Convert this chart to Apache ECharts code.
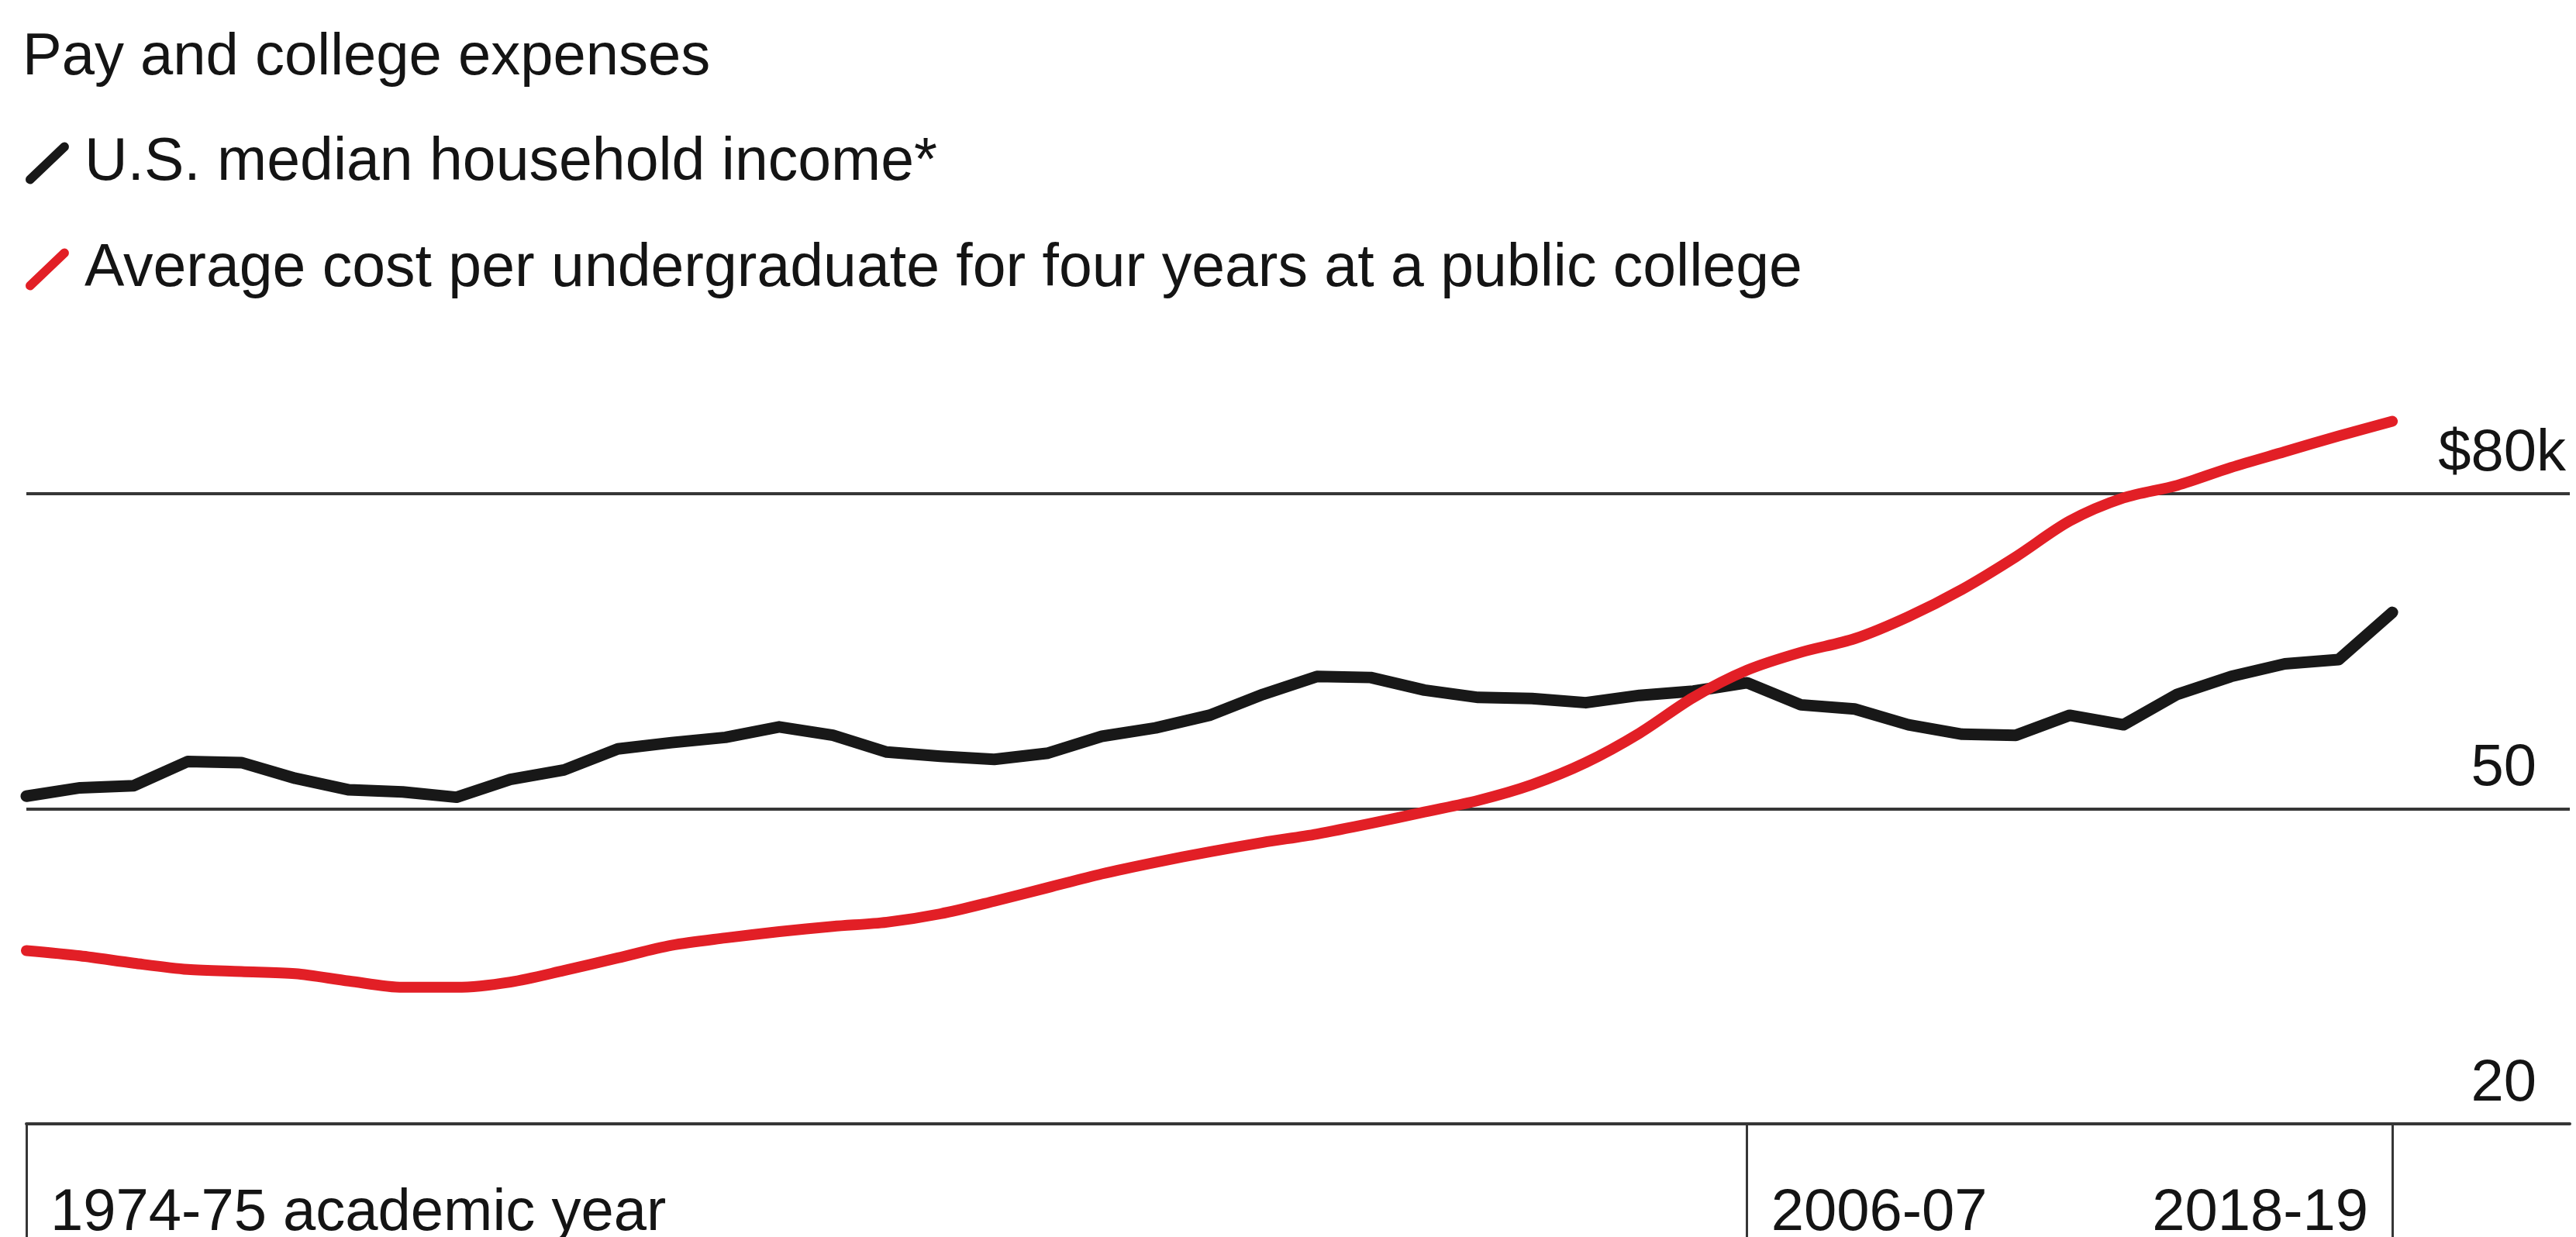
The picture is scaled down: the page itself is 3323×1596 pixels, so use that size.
<!DOCTYPE html>
<html>
<head>
<meta charset="utf-8">
<script src="https://cdn.jsdelivr.net/npm/echarts@6/dist/echarts.min.js"></script>
<style>
  html, body { margin: 0; padding: 0; background: #ffffff; }
  #chart { width: 3323px; height: 1596px; }
</style>
</head>
<body>
<div id="chart"></div>
<script>
// Academic years, one point per year
const years = [
  '1974-75', '1975-76', '1976-77', '1977-78', '1978-79', '1979-80', '1980-81', '1981-82',
  '1982-83', '1983-84', '1984-85', '1985-86', '1986-87', '1987-88', '1988-89', '1989-90',
  '1990-91', '1991-92', '1992-93', '1993-94', '1994-95', '1995-96', '1996-97', '1997-98',
  '1998-99', '1999-00', '2000-01', '2001-02', '2002-03', '2003-04', '2004-05', '2005-06',
  '2006-07', '2007-08', '2008-09', '2009-10', '2010-11', '2011-12', '2012-13', '2013-14',
  '2014-15', '2015-16', '2016-17', '2017-18', '2018-19'
];

// U.S. median household income, thousands of dollars
const income = [
  51.2, 52.0, 52.2, 54.5, 54.4, 52.9, 51.8, 51.6, 51.1, 52.8,
  53.7, 55.7, 56.3, 56.8, 57.8, 57.0, 55.4, 55.0, 54.7, 55.3,
  56.9, 57.7, 58.9, 60.9, 62.6, 62.5, 61.3, 60.6, 60.5, 60.1,
  60.8, 61.2, 62.0, 59.9, 59.5, 58.0, 57.1, 57.0, 58.9, 58.0,
  60.9, 62.6, 63.8, 64.2, 68.7
];

// Average four-year cost per undergraduate at a public college, thousands of dollars
const collegeCost = [
  36.5, 36.0, 35.3, 34.7, 34.5, 34.3, 33.6, 33.0, 33.0, 33.5,
  34.6, 35.8, 37.0, 37.7, 38.3, 38.8, 39.2, 40.0, 41.2, 42.5,
  43.8, 44.9, 45.9, 46.8, 47.6, 48.6, 49.7, 50.8, 52.3, 54.4,
  57.2, 60.6, 63.2, 64.9, 66.2, 68.3, 70.9, 74.0, 77.4, 79.6,
  80.8, 82.5, 84.0, 85.5, 86.9
];

// Axis marks
const yTicks = [20, 50, 80];
const xTickYears = ['1974-75', '2006-07', '2018-19'];
const xTickLabels = ['1974-75 academic year', '2006-07', '2018-19'];

const seriesNames = ['U.S. median household income*', 'Average cost per undergraduate for four years at a public college'];
const titleText = 'Pay and college expenses';

const FONT = '"Liberation Sans", Arial, Helvetica, sans-serif';
const INK = '#141414';
const RULE = '#363636';
const BLACK = '#181818';
const RED = '#e21f26';

const xIndex = years.map((_, i) => i);
const tickIdx = xTickYears.map(y => years.indexOf(y));
const labelFor = v => xTickLabels[tickIdx.indexOf(v)];

// Short slanted stroke with rounded ends, used as the legend key
const slash = 'path://M0.85,44.67 L46.85,0.67 A6,6 0 0 1 55.15,9.33 L9.15,53.33 A6,6 0 0 1 0.85,44.67 Z';

// The value axis runs a little past the last year so the rules reach the right-hand labels
const xMax = years.length - 1 + 3.3;

const baseX = {
  type: 'value',
  min: 0,
  max: xMax,
  position: 'bottom',
  splitLine: { show: false },
  axisLine: { show: false },
  axisTick: { show: true, length: 160, lineStyle: { color: RULE, width: 3 } },
  axisLabel: {
    show: true,
    fontFamily: FONT,
    fontSize: 76,
    color: INK,
    margin: 78,
    verticalAlign: 'top'
  }
};

const option = {
  animation: false,
  backgroundColor: '#ffffff',
  textStyle: { fontFamily: FONT },
  title: {
    text: titleText,
    left: 29,
    top: 37,
    padding: 0,
    textStyle: { fontFamily: FONT, fontSize: 76, fontWeight: 'normal', color: INK }
  },
  legend: {
    orient: 'vertical',
    left: 33,
    top: 172,
    padding: 0,
    itemWidth: 56,
    itemHeight: 54,
    itemGap: 60,
    selectedMode: false,
    data: [
      { name: seriesNames[0], icon: slash, itemStyle: { color: BLACK } },
      { name: seriesNames[1], icon: slash, itemStyle: { color: RED } }
    ],
    textStyle: { fontFamily: FONT, fontSize: 77, color: INK, padding: [0, 0, 0, 15] }
  },
  grid: {
    left: 34,
    right: 8,
    top: 637,
    bottom: 146,
    containLabel: false,
    outerBoundsMode: 'none'
  },
  xAxis: [
    Object.assign({}, baseX, {
      axisLine: { show: true, lineStyle: { color: RULE, width: 4 } },
      axisTick: Object.assign({}, baseX.axisTick, { customValues: tickIdx.slice(0, 2) }),
      axisLabel: Object.assign({}, baseX.axisLabel, {
        customValues: tickIdx.slice(0, 2),
        align: 'left',
        padding: [0, 0, 0, 31],
        formatter: v => labelFor(v)
      })
    }),
    Object.assign({}, baseX, {
      axisTick: Object.assign({}, baseX.axisTick, { customValues: tickIdx.slice(2) }),
      axisLabel: Object.assign({}, baseX.axisLabel, {
        customValues: tickIdx.slice(2),
        align: 'right',
        padding: [0, 31, 0, 0],
        formatter: v => labelFor(v)
      })
    })
  ],
  yAxis: {
    type: 'value',
    position: 'right',
    min: yTicks[0],
    max: yTicks[yTicks.length - 1],
    interval: yTicks[1] - yTicks[0],
    axisLine: { show: false },
    axisTick: { show: false },
    splitLine: { show: true, lineStyle: { color: RULE, width: 4 } },
    axisLabel: {
      inside: true,
      margin: 5,
      fontFamily: FONT,
      fontSize: 76,
      color: INK,
      verticalAlign: 'bottom',
      padding: [0, 0, 13, 0],
      // the unit "k" is only shown on the top label; the others keep its width so the digits line up
      formatter: v => v === yTicks[yTicks.length - 1] ? '$' + v + 'k' : v + '{ghost|k}',
      rich: {
        ghost: { color: 'rgba(0,0,0,0)', fontFamily: FONT, fontSize: 76 }
      }
    }
  },
  series: [
    {
      name: seriesNames[0],
      type: 'line',
      xAxisIndex: 0,
      data: income.map((v, i) => [xIndex[i], v]),
      showSymbol: false,
      smooth: false,
      clip: false,
      color: BLACK,
      lineStyle: { color: BLACK, width: 15, cap: 'round', join: 'round' },
      emphasis: { disabled: true },
      z: 3
    },
    {
      name: seriesNames[1],
      type: 'line',
      xAxisIndex: 0,
      data: collegeCost.map((v, i) => [xIndex[i], v]),
      showSymbol: false,
      smooth: 0.3,
      clip: false,
      color: RED,
      lineStyle: { color: RED, width: 14, cap: 'round', join: 'round' },
      emphasis: { disabled: true },
      z: 4
    }
  ]
};

const chart = echarts.init(document.getElementById('chart'), null, { renderer: 'canvas' });
chart.setOption(option);
</script>
</body>
</html>
